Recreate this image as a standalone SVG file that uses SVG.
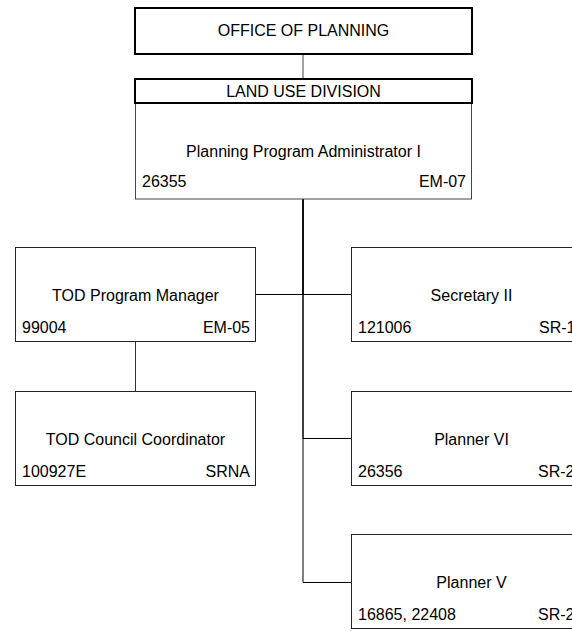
<svg xmlns="http://www.w3.org/2000/svg" width="572" height="631" viewBox="0 0 572 631">
<style>
text{font-family:"Liberation Sans",Arial,sans-serif;font-size:16px;fill:#000}
.c{text-anchor:middle}
.r{text-anchor:end}
.box{fill:#fff;stroke:#222;stroke-width:1}
.thick{fill:#fff;stroke:#000;stroke-width:2}
.ln{fill:none;stroke:#000;stroke-width:1}
</style>
<rect width="572" height="631" fill="#fff"/>
<g id="connectors">
<line class="ln" x1="303" y1="54" x2="303" y2="79" style="stroke:#444"/>
<path class="ln" d="M303 199V294.5H255"/>
<path class="ln" d="M303 199V294.5H351"/>
<path class="ln" d="M303 199V438.5H351"/>
<path class="ln" d="M303 199V582.5H351"/>
<line class="ln" x1="135.5" y1="342" x2="135.5" y2="391" style="stroke:#333"/>
</g>
<g id="office">
<rect class="thick" x="135" y="8" width="337" height="46"/>
<text class="c" x="303.5" y="36">OFFICE OF PLANNING</text>
</g>
<g id="admin">
<rect class="box" x="135.5" y="103.5" width="336" height="95.5" style="stroke:#444"/>
<rect class="thick" x="135" y="79" width="337" height="24"/>
<text class="c" x="303.5" y="97">LAND USE DIVISION</text>
<text class="c" x="303.5" y="157">Planning Program Administrator I</text>
<text x="142" y="187">26355</text>
<text class="r" x="466" y="187">EM-07</text>
</g>
<g id="tod-manager">
<rect class="box" x="15.5" y="247.5" width="240" height="94"/>
<text class="c" x="135.5" y="301">TOD Program Manager</text>
<text x="22" y="333">99004</text>
<text class="r" x="250" y="333">EM-05</text>
</g>
<g id="secretary">
<rect class="box" x="351.5" y="247.5" width="240" height="94"/>
<text class="c" x="471.5" y="301">Secretary II</text>
<text x="358" y="333">121006</text>
<text x="539" y="333">SR-1</text>
</g>
<g id="tod-council">
<rect class="box" x="15.5" y="391.5" width="240" height="94"/>
<text class="c" x="135.5" y="445">TOD Council Coordinator</text>
<text x="22" y="477">100927E</text>
<text class="r" x="250" y="477">SRNA</text>
</g>
<g id="planner-vi">
<rect class="box" x="351.5" y="391.5" width="240" height="94"/>
<text class="c" x="471.5" y="445">Planner VI</text>
<text x="358" y="477">26356</text>
<text x="538" y="477">SR-2</text>
</g>
<g id="planner-v">
<rect class="box" x="351.5" y="534.5" width="240" height="94"/>
<text class="c" x="471.5" y="588">Planner V</text>
<text x="358" y="620">16865, 22408</text>
<text x="538" y="620">SR-2</text>
</g>
</svg>
